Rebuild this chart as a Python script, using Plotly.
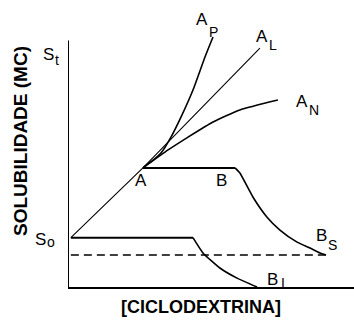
import plotly.graph_objects as go

# Phase-solubility diagram (Higuchi-Connors types), arbitrary units
# x: cyclodextrin concentration, y: solubility of the guest
X_MAX, Y_MAX = 10.0, 10.3
S0 = 2.0          # intrinsic solubility
S_DASH = 1.30     # reference (dashed) level

# linear A_L branch (also the common rising segment from S0 to A)
al_x = [0.1, 2.62, 6.71]
al_y = [S0, 4.83, 9.69]

# positive deviation A_P
ap_x = [2.62, 2.94, 3.25, 3.60, 3.95, 4.37, 4.79, 5.07]
ap_y = [4.83, 5.11, 5.43, 6.08, 6.89, 7.99, 9.33, 10.14]

# negative deviation A_N
an_x = [2.62, 3.50, 4.20, 5.07, 6.01, 7.34]
an_y = [4.83, 5.56, 6.08, 6.69, 7.18, 7.58]

# B_S: plateau A-B and the descending branch
bs_x = [2.62, 5.84, 6.01, 6.47, 6.96, 7.41, 8.01, 8.46, 8.81, 9.02]
bs_y = [4.83, 4.83, 4.62, 3.64, 2.83, 2.31, 1.82, 1.58, 1.38, 1.30]

# B_I: plateau at S0 and the descending branch
bi_x = [0.1, 4.37, 4.72, 5.31, 5.91, 6.61]
bi_y = [S0, S0, 1.38, 0.77, 0.36, 0.0]

# dashed reference line
dash_x = [0.1, 9.05]
dash_y = [S_DASH, S_DASH]

W, H = 354, 320
MARGIN = dict(l=68, r=0, t=33, b=33)

fig = go.Figure()

def add_line(x, y, width, dash="solid", smooth=0.5):
    fig.add_trace(go.Scatter(x=x, y=y, mode="lines",
                             line=dict(color="black", width=width, dash=dash,
                                       shape="spline" if smooth else "linear",
                                       smoothing=smooth or 0),
                             hoverinfo="skip", showlegend=False))

add_line(al_x, al_y, 1.1, smooth=0)
add_line(ap_x, ap_y, 1.6)
add_line(an_x, an_y, 1.6)
add_line(bs_x[:2], bs_y[:2], 2, smooth=0)
add_line(bs_x[1:], bs_y[1:], 1.6)
add_line(bi_x[:2], bi_y[:2], 2, smooth=0)
add_line(bi_x[1:], bi_y[1:], 1.6)
add_line(dash_x, dash_y, 1.4, dash="8px,5px", smooth=0)


def at(px, py):
    """Figure pixel position -> paper coordinates."""
    pw = W - MARGIN["l"] - MARGIN["r"]
    ph = H - MARGIN["t"] - MARGIN["b"]
    return (px - MARGIN["l"]) / pw, (H - MARGIN["b"] - py) / ph


MAIN = dict(family="Liberation Sans", size=17, color="black")
SUB = dict(family="Liberation Sans", size=14, color="black")

# (letter, subscript, letter centre, subscript centre) in figure pixels
labels = [
    ("S", "t", (48, 55), (57, 60)),
    ("S", "o", (40, 239), (51, 242)),
    ("A", "P", (202, 19), (213, 32)),
    ("A", "L", (262, 37), (273, 45)),
    ("A", "N", (302, 102), (314, 110)),
    ("A", None, (141, 180), None),
    ("B", None, (221, 180), None),
    ("B", "S", (321, 235), (332, 245)),
    ("B", "I", (272, 279), (283, 283)),
]

annotations = []
for letter, sub, pos, spos in labels:
    x, y = at(*pos)
    annotations.append(dict(text=letter, x=x, y=y, xref="paper", yref="paper",
                            showarrow=False, xanchor="center",
                            yanchor="middle", font=MAIN, borderpad=0))
    if sub:
        x, y = at(*spos)
        annotations.append(dict(text=sub, x=x, y=y, xref="paper",
                                yref="paper", showarrow=False,
                                xanchor="center", yanchor="middle", font=SUB,
                                borderpad=0))

tx, ty = at(201, 307)
annotations.append(dict(text="<b>[CICLODEXTRINA]</b>", x=tx, y=ty,
                        xref="paper", yref="paper", showarrow=False,
                        xanchor="center", yanchor="middle",
                        font=dict(family="Liberation Sans", size=18,
                                  color="black")))
tx, ty = at(20, 141)
annotations.append(dict(text="<b>SOLUBILIDADE (MC)</b>", x=tx, y=ty,
                        xref="paper", yref="paper", showarrow=False,
                        textangle=-90, xanchor="center", yanchor="middle",
                        font=dict(family="Liberation Sans", size=19,
                                  color="black")))

# vertical solubility axis stops below the top of the plotting area
shapes = [dict(type="line", xref="x", yref="y", x0=0, x1=0, y0=0, y1=10,
               line=dict(color="black", width=2))]

fig.update_layout(
    width=W, height=H,
    margin=MARGIN,
    paper_bgcolor="white", plot_bgcolor="white",
    annotations=annotations, shapes=shapes,
    xaxis=dict(range=[0, X_MAX], showgrid=False, zeroline=False,
               showticklabels=False, ticks="", showline=True,
               linecolor="black", linewidth=2, fixedrange=True),
    yaxis=dict(range=[0, Y_MAX], showgrid=False, zeroline=False,
               showticklabels=False, ticks="", showline=False,
               fixedrange=True),
)

fig.write_html("out.html", config={"displayModeBar": False})
